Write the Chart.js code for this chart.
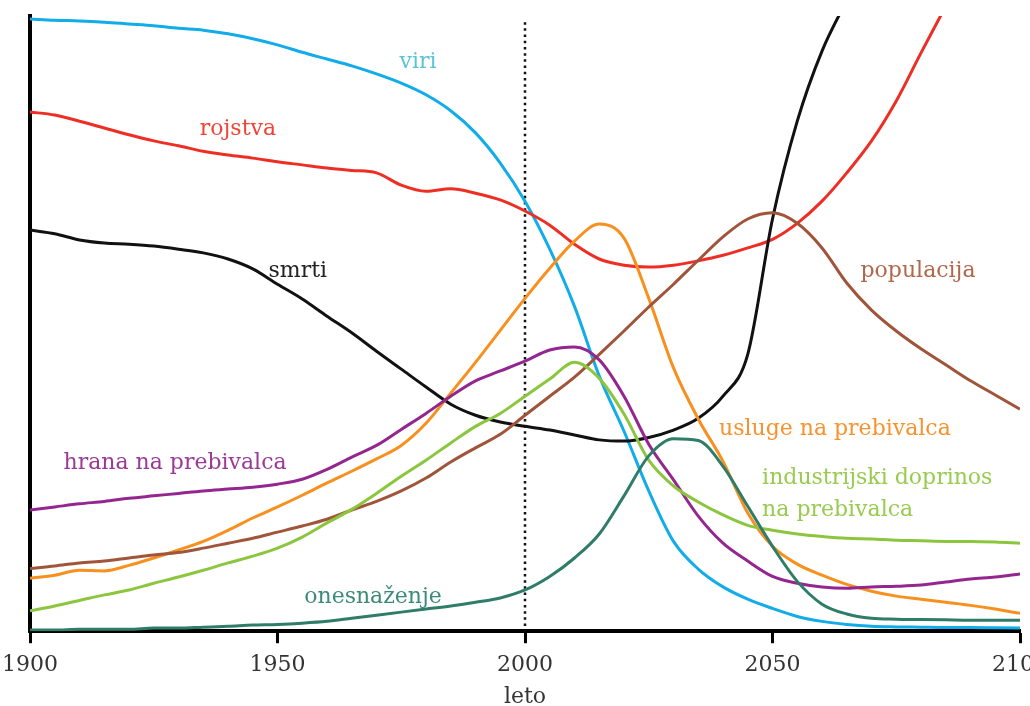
<!DOCTYPE html>
<html>
<head>
<meta charset="utf-8">
<script src="https://cdn.jsdelivr.net/npm/chart.js@4"></script>
<style>
    html, body { margin: 0; padding: 0; background: #fff; }
    #wrap { width: 1030px; height: 706px; }
</style>
</head>
<body>
<div id="wrap"><canvas id="worldChart"></canvas></div>
<script>
const years = [1900, 1905, 1910, 1915, 1920, 1925, 1930, 1935, 1940, 1945,
    1950, 1955, 1960, 1965, 1970, 1975, 1980, 1985, 1990, 1995,
    2000, 2005, 2010, 2015, 2020, 2025, 2030, 2035, 2040, 2045,
    2050, 2055, 2060, 2065, 2070, 2075, 2080, 2085, 2090, 2095, 2100]

const viri = [99.5, 99.3, 99.2, 99.0, 98.7, 98.4, 98.0, 97.7, 97.1, 96.3,
    95.3, 94.1, 93.0, 91.9, 90.6, 89.1, 87.2, 84.6, 81.0, 76.1,
    69.9, 62.1, 52.8, 41.5, 32.5, 22.8, 14.6, 10.1, 7.2, 5.2,
    3.7, 2.4, 1.6, 1.1, 0.8, 0.7, 0.65, 0.6, 0.6, 0.55, 0.5]

const rojstva = [84.4, 83.9, 82.9, 81.8, 80.7, 79.7, 78.9, 78.0, 77.4, 76.9,
    76.3, 75.8, 75.3, 74.9, 74.5, 72.5, 71.5, 71.9, 71.2, 70.1,
    68.3, 66.0, 62.9, 60.5, 59.5, 59.2, 59.5, 60.2, 61.1, 62.3,
    63.7, 66.3, 69.9, 74.5, 79.7, 86.2, 94.0, 101.6, 109.4, 117.2, 125]

const smrti = [65.2, 64.6, 63.6, 63.1, 62.9, 62.6, 62.1, 61.5, 60.5, 58.9,
    56.4, 54.0, 51.2, 48.5, 45.5, 42.6, 39.7, 36.9, 35.1, 34.0,
    33.3, 32.7, 31.9, 31.1, 30.9, 31.5, 32.7, 34.6, 38.2, 45.0,
    67.0, 82.9, 94.3, 102.5, 110, 117, 124, 131, 138, 145, 152]

const populacija = [10.2, 10.6, 11.1, 11.4, 11.9, 12.4, 12.8, 13.5, 14.3, 15.1,
    16.1, 17.1, 18.2, 19.7, 21.1, 22.8, 24.9, 27.5, 29.8, 32.0,
    35.1, 38.2, 41.3, 45.0, 48.8, 52.7, 56.4, 60.3, 64.1, 67.0,
    68.0, 66.3, 62.3, 56.6, 52.2, 48.8, 45.9, 43.3, 40.7, 38.4, 36.1]

const usluge = [8.6, 9.1, 9.9, 9.8, 10.7, 11.9, 13.2, 14.6, 16.4, 18.4,
    20.2, 22.1, 24.1, 26.0, 28.0, 30.2, 33.8, 38.7, 43.7, 48.9,
    54.1, 59.0, 63.4, 66.2, 63.9, 54.1, 42.8, 34.5, 27.6, 19.2,
    13.8, 10.9, 9.1, 7.6, 6.5, 5.7, 5.2, 4.7, 4.2, 3.6, 2.9]

const hrana = [19.7, 20.2, 20.7, 21.1, 21.6, 22.0, 22.4, 22.8, 23.1, 23.4,
    23.9, 24.7, 26.3, 28.3, 30.2, 32.8, 35.4, 38.2, 40.7, 42.3,
    43.9, 45.7, 46.2, 44.1, 38.2, 30.4, 24.6, 18.7, 14.3, 11.4,
    8.9, 7.8, 7.2, 7.0, 7.2, 7.3, 7.5, 8.0, 8.5, 8.8, 9.3]

const industrija = [3.3, 4.1, 5.0, 5.9, 6.7, 7.8, 8.8, 9.9, 11.1, 12.2,
    13.5, 15.3, 17.6, 19.8, 22.4, 25.2, 27.8, 30.6, 33.3, 35.4,
    38.2, 41.0, 43.7, 41.1, 35.3, 27.8, 23.6, 21.0, 18.9, 17.2,
    16.4, 15.8, 15.4, 15.1, 15.0, 14.8, 14.7, 14.6, 14.6, 14.5, 14.3]

const onesnazenje = [0.2, 0.2, 0.3, 0.3, 0.3, 0.5, 0.5, 0.65, 0.8, 1.0,
    1.1, 1.3, 1.6, 2.1, 2.6, 3.1, 3.6, 4.1, 4.7, 5.4,
    6.7, 8.9, 11.9, 15.8, 22.0, 28.5, 31.3, 31.0, 26.8, 20.3,
    13.8, 8.1, 4.4, 2.8, 2.1, 1.95, 1.9, 1.85, 1.8, 1.8, 1.8]

const xTicks = [1900, 1950, 2000, 2050, 2100]
const markerYear = 2000

// napisi ob krivuljah: [besedilo, leto, vrednost, barva, poravnava]
const labels = [
    ["viri", 1978.4, 92.4, "#5cc3d2", "center"],
    ["rojstva", 1942.0, 81.6, "#ef4436", "center"],
    ["smrti", 1954.1, 58.5, "#222222", "center"],
    ["populacija", 2079.4, 58.5, "#b0674c", "center"],
    ["hrana na prebivalca", 1929.3, 27.3, "#9b3a96", "center"],
    ["usluge na prebivalca", 2062.6, 32.8, "#f7932e", "center"],
    ["industrijski doprinos", 2047.9, 24.9, "#98cb4f", "left"],
    ["na prebivalca", 2047.9, 19.7, "#98cb4f", "left"],
    ["onesnaženje", 1969.3, 5.5, "#3d8a78", "center"]
]

const font = "'DejaVu Serif', 'Liberation Serif', serif"

function line(values, color) {
    return {
        data: values.map((v, i) => ({ x: years[i], y: v })),
        borderColor: color,
        borderWidth: 3,
        pointRadius: 0,
        cubicInterpolationMode: "monotone",
        fill: false
    }
}

const extras = {
    id: "extras",
    beforeDatasetsDraw(chart) {
        const ctx = chart.ctx
        const x = chart.scales.x.getPixelForValue(markerYear)
        ctx.save()
        ctx.strokeStyle = "#111"
        ctx.lineWidth = 2.5
        ctx.setLineDash([2.5, 3.7])
        ctx.beginPath()
        ctx.moveTo(x, chart.scales.y.getPixelForValue(99))
        ctx.lineTo(x, chart.chartArea.bottom)
        ctx.stroke()
        ctx.restore()
    },
    afterDatasetsDraw(chart) {
        const ctx = chart.ctx
        ctx.save()
        ctx.font = "22px " + font
        ctx.textBaseline = "middle"
        labels.forEach(l => {
            ctx.fillStyle = l[3]
            ctx.textAlign = l[4]
            ctx.fillText(l[0], chart.scales.x.getPixelForValue(l[1]), chart.scales.y.getPixelForValue(l[2]))
        })
        ctx.restore()
    }
}

const worldChart = new Chart(
    document.getElementById("worldChart"),
    {
        type: "line",
        data: {
            datasets: [
                line(onesnazenje, "#2f7d69"),
                line(industrija, "#8cc63f"),
                line(hrana, "#93278f"),
                line(populacija, "#a0553a"),
                line(usluge, "#f7901e"),
                line(smrti, "#111111"),
                line(rojstva, "#ee2e24"),
                line(viri, "#12ace8")
            ]
        },
        options: {
            responsive: true,
            maintainAspectRatio: false,
            animation: false,
            layout: {
                autoPadding: false,
                padding: { left: 30, right: 10, top: 16, bottom: 0 }
            },
            plugins: {
                legend: { display: false },
                tooltip: { enabled: false }
            },
            scales: {
                x: {
                    type: "linear",
                    min: 1900,
                    max: 2100,
                    afterBuildTicks: axis => {
                        axis.ticks = xTicks.map(v => ({ value: v }))
                    },
                    afterFit: axis => {
                        axis.paddingLeft = 0
                        axis.paddingRight = 0
                    },
                    ticks: {
                        color: "#333",
                        font: { family: font, size: 22 },
                        padding: 9,
                        maxRotation: 0,
                        callback: v => String(v)
                    },
                    grid: {
                        drawOnChartArea: false,
                        color: "#000",
                        tickLength: 12,
                        tickWidth: 3
                    },
                    border: { color: "#000", width: 4 },
                    title: {
                        display: true,
                        text: "leto",
                        color: "#333",
                        font: { family: font, size: 22 },
                        padding: { top: -4, bottom: -4 }
                    }
                },
                y: {
                    min: 0,
                    max: 100,
                    ticks: { display: false },
                    grid: { display: false, drawTicks: false },
                    border: { color: "#000", width: 4 }
                }
            }
        },
        plugins: [extras]
    }
)
</script>
</body>
</html>
